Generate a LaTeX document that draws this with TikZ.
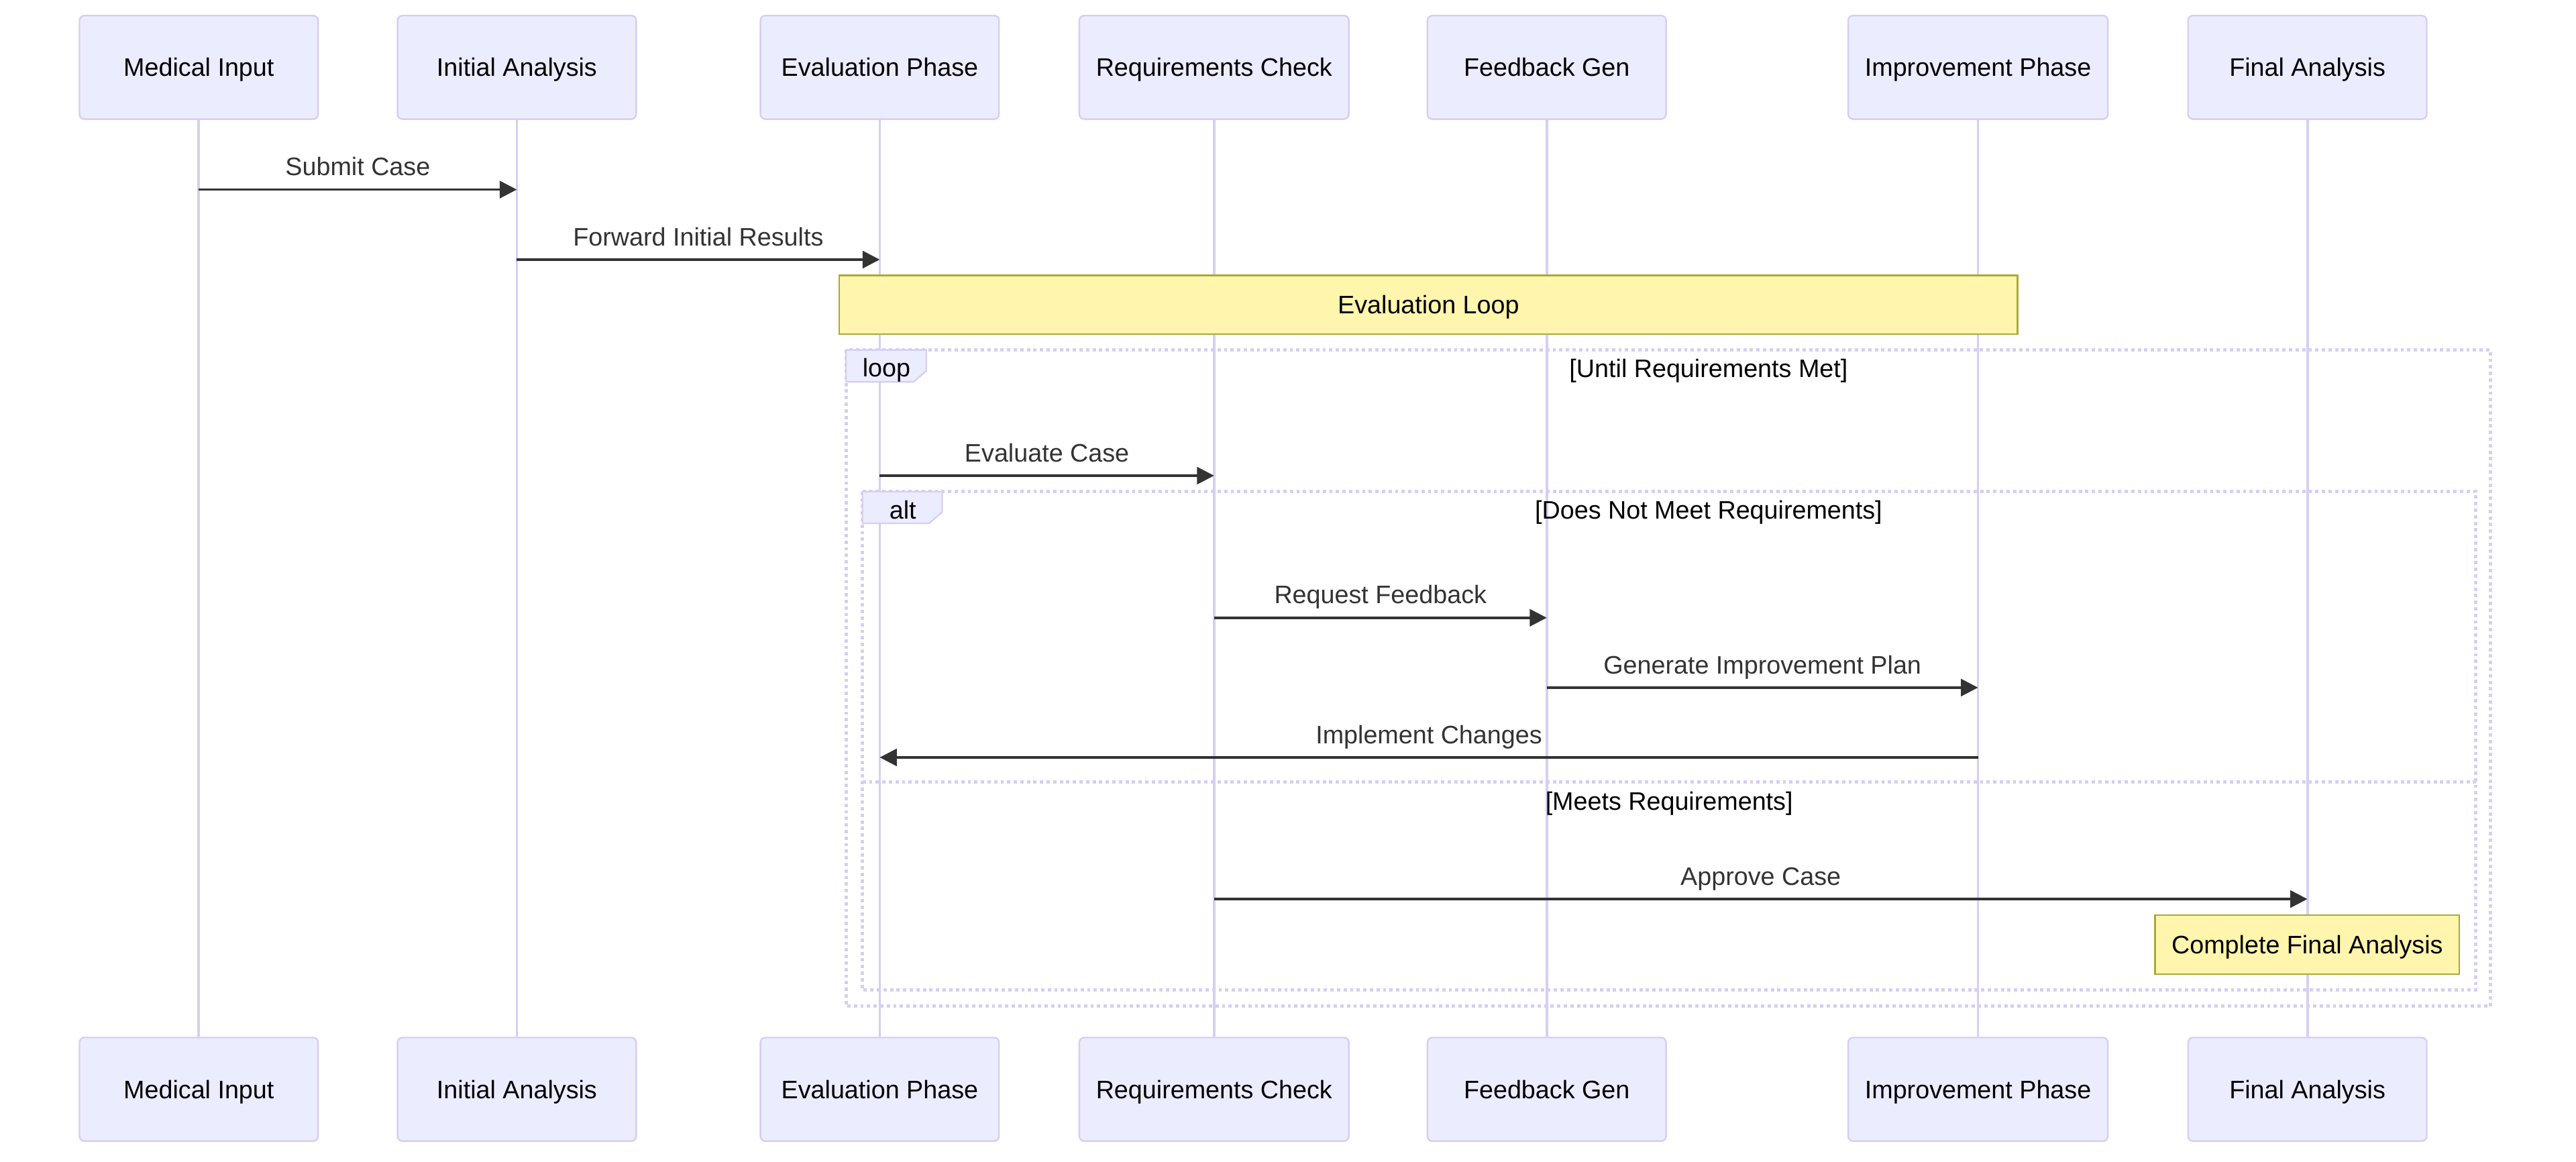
\documentclass[tikz,border=0pt]{standalone}
\usepackage{fontspec}
\setmainfont{Liberation Sans}
\usetikzlibrary{arrows.meta}
\definecolor{actfill}{HTML}{ECECFF}
\definecolor{actline}{HTML}{D7CEF2}
\definecolor{notefill}{HTML}{FFF5AD}
\definecolor{noteline}{HTML}{AAAA33}
\definecolor{msgc}{HTML}{333333}
\begin{document}
\begin{tikzpicture}[x=0.025cm,y=-0.025cm,
  font=\fontsize{10.95}{13.2}\selectfont,
  actor/.style={draw=actline, fill=actfill, line width=0.7pt, rounded corners=0.075cm,
    minimum width=3.63cm, minimum height=1.575cm, text height=7.85pt, text depth=0pt, inner sep=0pt},
  life/.style={draw=actline, line width=1.1pt},
  msg/.style={draw=msgc, line width=1.1pt, -{Triangle[length=0.26cm,width=0.26cm]}},
  lab/.style={midway, anchor=base, yshift=0.2125cm, text=msgc, inner sep=0pt},
  seqframe/.style={draw=actline, line width=1.4pt, dash pattern=on 0.05cm off 0.05cm},
  flabel/.style={draw=actline, fill=actfill, line width=0.7pt},
  notebox/.style={draw=noteline, fill=notefill, line width=0.7pt, text height=7.85pt, text depth=0pt, inner sep=0pt},
  txt/.style={anchor=base, text=black, inner sep=0pt}]
\useasboundingbox (0,0) rectangle (1568,707);
\fill[white] (0,0) rectangle (1568,707);

% actors top
\node[actor] (medT) at (121,41) {Medical Input};
\node[actor] (iniT) at (314.6,41) {Initial Analysis};
\node[actor] (evaT) at (535.5,41) {Evaluation Phase};
\node[actor, minimum width=4.1cm] (reqT) at (739,41) {Requirements Check};
\node[actor] (fbT) at (941.5,41) {Feedback Gen};
\node[actor, minimum width=3.95cm] (impT) at (1204,41) {Improvement Phase};
\node[actor] (finT) at (1404.5,41) {Final Analysis};
% actors bottom
\node[actor] (medB) at (121,663) {Medical Input};
\node[actor] (iniB) at (314.6,663) {Initial Analysis};
\node[actor] (evaB) at (535.5,663) {Evaluation Phase};
\node[actor, minimum width=4.1cm] (reqB) at (739,663) {Requirements Check};
\node[actor] (fbB) at (941.5,663) {Feedback Gen};
\node[actor, minimum width=3.95cm] (impB) at (1204,663) {Improvement Phase};
\node[actor] (finB) at (1404.5,663) {Final Analysis};

% lifelines
\draw[life] (medT.south) -- (medB.north);
\draw[life] (iniT.south) -- (iniB.north);
\draw[life] (evaT.south) -- (evaB.north);
\draw[life] (reqT.south) -- (reqB.north);
\draw[life] (fbT.south) -- (fbB.north);
\draw[life] (impT.south) -- (impB.north);
\draw[life] (finT.south) -- (finB.north);

% loop frame
\draw[seqframe] (515,213) rectangle (1516,612.4);
\draw[flabel] (515,213) -- (563.8,213) -- (563.8,225.8) -- (556,232.4) -- (515,232.4) -- cycle;
\node[txt] (looplab) at (539.6,229.4) {loop};
\node[txt] (loopcond) at (1040,229.7) {[Until Requirements Met]};

% alt frame
\draw[seqframe] (525,299.2) rectangle (1507,602.6);
\draw[flabel] (525,299.2) -- (573.5,299.2) -- (573.5,311.6) -- (565.6,318.5) -- (525,318.5) -- cycle;
\node[txt] (altlab) at (549.5,315.7) {alt};
\node[txt] (altcond) at (1040,316) {[Does Not Meet Requirements]};
\draw[seqframe] (525,476) -- (1507,476);
\node[txt] (elsecond) at (1016,493) {[Meets Requirements]};

% notes
\node[notebox, minimum width=17.925cm, minimum height=0.8925cm] (note1) at (869.5,185.5) {Evaluation Loop};
\node[notebox, minimum width=4.63cm, minimum height=0.9cm] (note2) at (1404.4,575) {Complete Final Analysis};

% messages
\draw[msg] (medT |- 0,115.4) -- node[lab] {Submit Case} (iniT |- 0,115.4);
\draw[msg] (iniT |- 0,158) -- node[lab] {Forward Initial Results} (evaT |- 0,158);
\draw[msg] (evaT |- 0,289.5) -- node[lab] {Evaluate Case} (reqT |- 0,289.5);
\draw[msg] (reqT |- 0,376) -- node[lab] {Request Feedback} (fbT |- 0,376);
\draw[msg] (fbT |- 0,418.5) -- node[lab] {Generate Improvement Plan} (impT |- 0,418.5);
\draw[msg] (impT |- 0,461) -- node[lab] {Implement Changes} (evaT |- 0,461);
\draw[msg] (reqT |- 0,547.2) -- node[lab] {Approve Case} (finT |- 0,547.2);
\end{tikzpicture}
\end{document}
